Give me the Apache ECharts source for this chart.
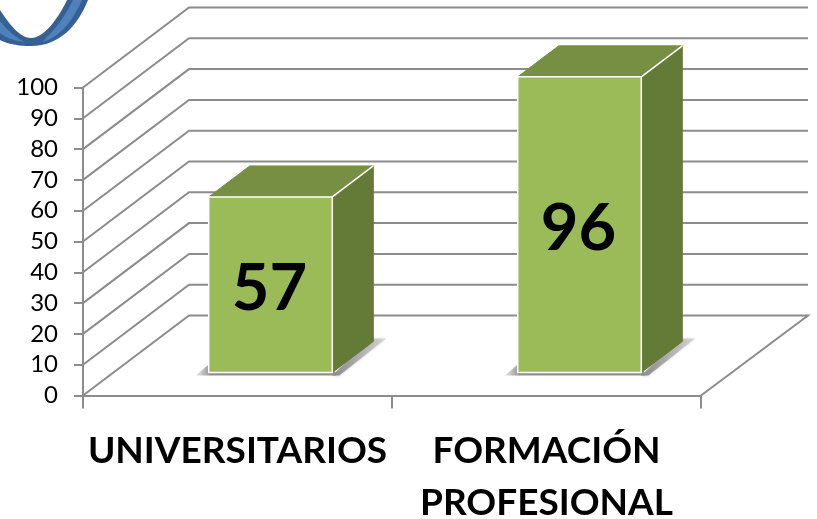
<!DOCTYPE html>
<html>
<head>
<meta charset="utf-8">
<style>html,body{margin:0;padding:0;background:#fff}#c{width:817px;height:519px}</style>
<script src="https://cdn.jsdelivr.net/npm/echarts@6/dist/echarts.min.js"></script>
</head>
<body>
<div id="c"></div>
<script>
const categories = ['UNIVERSITARIOS', 'FORMACIÓN\nPROFESIONAL'];
const values = [57, 96];
const yTicks = [0, 10, 20, 30, 40, 50, 60, 70, 80, 90, 100];

const WALL_DX = 106, WALL_DY = -80;
const BAR_DX = 33, BAR_DY = -23;
const SIDE_DX = 41, SIDE_DY = -31;
const GRID_COLOR = '#8c8c8c';
const lineStyle = {stroke: GRID_COLOR, lineWidth: 2, fill: null};

function curve(start, segs) {
  const pts = [start];
  let p0 = start;
  segs.forEach(s => {
    if (s.length === 1) { pts.push(s[0]); p0 = s[0]; return; }
    for (let i = 1; i <= 16; i++) {
      const t = i / 16, u = 1 - t;
      pts.push([
        u*u*u*p0[0] + 3*u*u*t*s[0][0] + 3*u*t*t*s[1][0] + t*t*t*s[2][0],
        u*u*u*p0[1] + 3*u*u*t*s[0][1] + 3*u*t*t*s[1][1] + t*t*t*s[2][1]
      ]);
    }
    p0 = s[2];
  });
  return pts;
}
const ringOuter = curve([0,10], [[[10,25],[20,38],[31,38]], [[45,38],[60,15],[67,0]], [[88,0]], [[78,25],[60,46],[31,46]], [[18,46],[8,44],[0,40]]]);
const ringLightR = curve([73,0], [[[82,0]], [[72,22],[60,37],[42,42]], [[55,30],[66,15],[73,0]]]);
const ringLightL = curve([0,21], [[[8,31],[16,38],[25,42]], [[15,41],[6,38],[0,33]]]);

function renderWall(params, api) {
  const cs = params.coordSys;
  const tick = api.value(1);
  const y = api.coord([0, tick])[1];
  const xl = cs.x, xr = cs.x + cs.width;
  const points = [[xl, y], [xl + WALL_DX, y + WALL_DY], [xr + WALL_DX + 1, y + WALL_DY]];
  if (tick === 0) points.push([xr, y]);
  return {type: 'polyline', shape: {points}, style: lineStyle, silent: true};
}

function hGrad(xa, ca, xb, cb) {
  return {type: 'linear', global: true, x: xa, y: 0, x2: xb, y2: 0,
    colorStops: [{offset: 0, color: ca}, {offset: 1, color: cb}]};
}

function renderBar(params, api) {
  const idx = api.value(0);
  const top = api.coord([idx, api.value(1)]);
  const base = api.coord([idx, 0]);
  const w = api.size([1, 0])[0] * 0.4;
  const x0 = top[0] + BAR_DX - w / 2, x1 = x0 + w;
  const yt = top[1] + BAR_DY, yb = base[1] + BAR_DY;
  const dx = SIDE_DX, dy = SIDE_DY;
  return {
    type: 'group',
    children: [
      {type: 'polygon', shape: {points: [[x0 - 13, yb + 3], [x0, yb - 8], [x1, yb - 8], [x1 + 4, yb + 3]]},
        style: {fill: hGrad(x0 - 13, 'rgba(150,150,150,0.2)', x0 + 2, '#8f8f8f')}},
      {type: 'polygon', shape: {points: [[x1, yb + 3], [x1 + dx - 3, yb + dy - 3], [x1 + dx + 13, yb + dy - 3], [x1 + 7, yb + 3]]},
        style: {fill: hGrad(x1, '#8a8a8a', x1 + dx + 13, 'rgba(170,170,170,0.35)'), shadowBlur: 3, shadowColor: 'rgba(150,150,150,0.6)'}},
      {type: 'polygon', shape: {points: [[x1, yt], [x1 + dx, yt + dy], [x1 + dx, yb + dy], [x1, yb]]},
        style: {fill: '#647a37', stroke: '#647a37', lineWidth: 1}},
      {type: 'polygon', shape: {points: [[x0, yt], [x0 + dx, yt + dy], [x1 + dx, yt + dy], [x1, yt]]},
        style: {fill: '#778f42', stroke: '#778f42', lineWidth: 1}},
      {type: 'line', shape: {x1: x1, y1: yt, x2: x1 + dx, y2: yt + dy}, style: {stroke: '#ffffff', lineWidth: 1.5}},
      {type: 'rect', shape: {x: x0, y: yt, width: w, height: yb - yt},
        style: {fill: '#9bbb59', stroke: '#ffffff', lineWidth: 1.5}},
      {type: 'text', style: {text: String(api.value(1)), x: (x0 + x1) / 2 - 1, y: (yt + yb) / 2 + 4,
        align: 'center', verticalAlign: 'middle', fill: '#000',
        font: 'bold 65px Lato'}}
    ]
  };
}

const chart = echarts.init(document.getElementById('c'), null, {renderer: 'canvas'});
chart.setOption({
  animation: false,
  backgroundColor: '#fff',
  grid: {left: 83, right: 116, top: 87.5, bottom: 123.5, outerBoundsMode: 'none'},
  graphic: [
    {type: 'polygon', silent: true, z: 10, shape: {points: ringOuter}, style: {fill: '#376092'}},
    {type: 'polygon', silent: true, z: 11, shape: {points: ringLightR}, style: {fill: '#4f81bd'}},
    {type: 'polygon', silent: true, z: 11, shape: {points: ringLightL}, style: {fill: '#4f81bd'}}
  ],
  xAxis: {
    type: 'category',
    data: categories,
    axisLine: {lineStyle: {color: GRID_COLOR, width: 2}},
    axisTick: {show: true, length: 13, alignWithLabel: false, lineStyle: {color: GRID_COLOR, width: 2}},
    axisLabel: {interval: 0, margin: 30, color: '#000', fontFamily: 'Lato', fontWeight: 'bold', fontSize: 37, lineHeight: 52, verticalAlign: 'top'}
  },
  yAxis: {
    type: 'value',
    min: 0, max: 100, interval: 10,
    splitLine: {show: false},
    axisLine: {show: true, lineStyle: {color: GRID_COLOR, width: 2}},
    axisTick: {show: true, length: 9, lineStyle: {color: GRID_COLOR, width: 2}},
    axisLabel: {margin: 25, padding: [3, 0, 0, 0], color: '#000', fontFamily: 'Lato', fontSize: 24}
  },
  series: [
    {type: 'custom', z: 1, silent: true, encode: {x: 0, y: 1}, renderItem: renderWall,
      data: yTicks.map(t => [0, t])},
    {type: 'custom', z: 2, silent: true, encode: {x: 0, y: 1}, renderItem: renderBar,
      data: values.map((v, i) => [i, v])}
  ]
});
</script>
</body>
</html>
